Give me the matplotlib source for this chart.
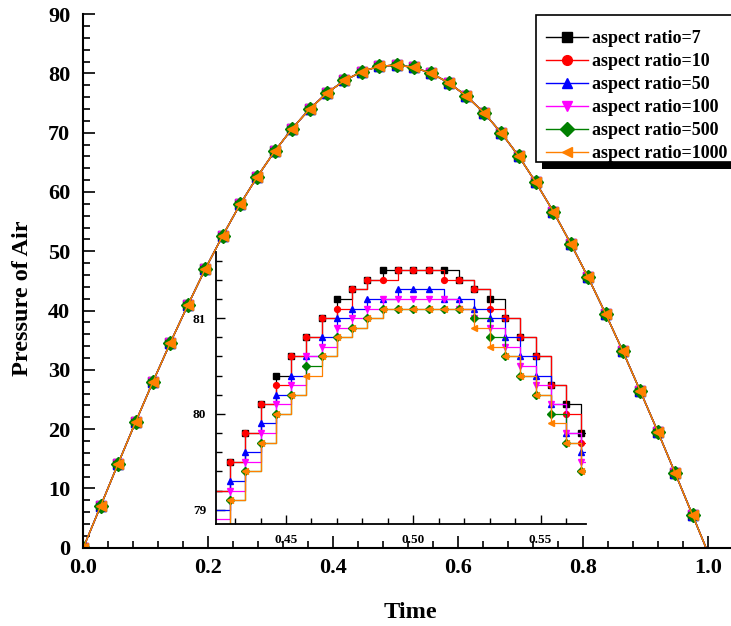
import numpy as np
import matplotlib.pyplot as plt
from matplotlib.ticker import MultipleLocator, FormatStrFormatter
from matplotlib.patches import Rectangle

plt.rcParams['font.family'] = ['Liberation Serif', 'DejaVu Serif']
plt.rcParams['font.weight'] = 'bold'

# main curve (markers shown every 1/36 of the cycle)
time_main = [0.0, 0.0279, 0.0557, 0.0836, 0.1114, 0.1393, 0.1671, 0.1950, 0.2228,
             0.2507, 0.2785, 0.3064, 0.3342, 0.3621, 0.3899, 0.4178, 0.4456, 0.4735,
             0.5013, 0.5292, 0.5570, 0.5849, 0.6127, 0.6406, 0.6684, 0.6963, 0.7241,
             0.7520, 0.7798, 0.8077, 0.8355, 0.8634, 0.8912, 0.9191, 0.9469, 0.9748,
             0.9963]
pressure_main = [0.0, 7.1, 14.2, 21.2, 28.0, 34.6, 40.9, 47.0, 52.6,
                 57.9, 62.6, 66.9, 70.7, 74.0, 76.7, 78.8, 80.3, 81.2,
                 81.4, 81.0, 80.0, 78.4, 76.2, 73.4, 70.0, 66.1, 61.6,
                 56.7, 51.3, 45.6, 39.5, 33.1, 26.4, 19.6, 12.6, 5.5,
                 0.0]

# zoomed region around the peak
time_zoom = [0.422, 0.428, 0.434, 0.440, 0.446, 0.452, 0.458, 0.464, 0.470, 0.476,
             0.482, 0.488, 0.494, 0.500, 0.506, 0.512, 0.518, 0.524, 0.530, 0.536,
             0.542, 0.548, 0.554, 0.560, 0.566, 0.572]
p_ar7 = [79.2, 79.5, 79.8, 80.1, 80.4, 80.6, 80.8, 81.0, 81.2, 81.3, 81.4, 81.5, 81.5,
         81.5, 81.5, 81.5, 81.4, 81.3, 81.2, 81.0, 80.8, 80.6, 80.3, 80.1, 79.8, 79.4]
p_ar10 = [79.2, 79.5, 79.8, 80.1, 80.3, 80.6, 80.8, 81.0, 81.1, 81.3, 81.4, 81.4, 81.5,
          81.5, 81.5, 81.4, 81.4, 81.3, 81.1, 81.0, 80.8, 80.6, 80.3, 80.0, 79.7, 79.3]
p_ar50 = [79.0, 79.3, 79.6, 79.9, 80.2, 80.4, 80.6, 80.8, 81.0, 81.1, 81.2, 81.2, 81.3,
          81.3, 81.3, 81.2, 81.2, 81.1, 81.0, 80.8, 80.6, 80.4, 80.1, 79.8, 79.6, 79.2]
p_ar100 = [78.9, 79.2, 79.5, 79.8, 80.1, 80.3, 80.6, 80.7, 80.9, 81.0, 81.1, 81.2, 81.2,
           81.2, 81.2, 81.2, 81.1, 81.0, 80.9, 80.7, 80.5, 80.3, 80.1, 79.8, 79.5, 79.1]
p_ar500 = [78.8, 79.1, 79.4, 79.7, 80.0, 80.2, 80.5, 80.6, 80.8, 80.9, 81.0, 81.1, 81.1,
           81.1, 81.1, 81.1, 81.1, 81.0, 80.8, 80.6, 80.4, 80.2, 80.0, 79.7, 79.4, 79.0]
p_ar1000 = [78.8, 79.1, 79.4, 79.7, 80.0, 80.2, 80.4, 80.6, 80.8, 80.9, 81.0, 81.1, 81.1,
            81.1, 81.1, 81.1, 81.1, 80.9, 80.7, 80.6, 80.4, 80.2, 79.9, 79.7, 79.4, 79.0]

labels = ['aspect ratio=7', 'aspect ratio=10', 'aspect ratio=50',
          'aspect ratio=100', 'aspect ratio=500', 'aspect ratio=1000']
colors = ['black', 'red', 'blue', 'magenta', 'green', '#FF8000']
markers = ['s', 'o', '^', 'v', 'D', '<']
zoom_series = [p_ar7, p_ar10, p_ar50, p_ar100, p_ar500, p_ar1000]

fig = plt.figure(figsize=(7.31, 6.26), dpi=100)
ax = fig.add_axes([0.114, 0.125, 0.886, 0.8525])

for lab, col, mk in zip(labels, colors, markers):
    ax.plot(time_main, pressure_main, color=col, marker=mk, markersize=7,
            linewidth=1.0, markevery=slice(0, len(time_main) - 1), label=lab)

ax.set_xlim(0, 1.0363)
ax.set_ylim(0, 90)
ax.spines['top'].set_visible(False)
ax.spines['right'].set_visible(False)
for s in ['left', 'bottom']:
    ax.spines[s].set_linewidth(1.5)
ax.xaxis.set_major_locator(MultipleLocator(0.2))
ax.xaxis.set_minor_locator(MultipleLocator(0.04))
ax.xaxis.set_major_formatter(FormatStrFormatter('%.1f'))
ax.yaxis.set_major_locator(MultipleLocator(10))
ax.yaxis.set_minor_locator(MultipleLocator(2))
ax.tick_params(which='both', direction='in', top=False, right=False, width=1.2)
ax.tick_params(which='major', length=8.5, labelsize=16)
ax.tick_params(which='minor', length=5.3)
ax.tick_params(axis='y', which='major', pad=9.5)
ax.tick_params(axis='x', which='major', pad=7.5)
for t in ax.get_xticklabels() + ax.get_yticklabels():
    t.set_fontweight('bold')

ax.set_xlabel('Time', fontsize=17.5, fontweight='bold')
ax.set_ylabel('Pressure of Air', fontsize=17.5, fontweight='bold')
ax.xaxis.set_label_coords(0.5055, -0.101)
ax.yaxis.set_label_coords(-0.078, 0.468)

# legend: own frame and solid black shadow, entries placed inside
shadow = Rectangle((0.7415, 0.7308), 0.3, 0.2343, transform=fig.transFigure,
                   facecolor='black', edgecolor='none', zorder=5.1, clip_on=False)
frame = Rectangle((0.7328, 0.7417), 0.3, 0.2343, transform=fig.transFigure,
                  facecolor='white', edgecolor='black', linewidth=1.2,
                  zorder=5.2, clip_on=False)
ax.add_artist(shadow)
ax.add_artist(frame)
leg = ax.legend(loc='upper left', bbox_to_anchor=(0.7469, 0.9513),
                bbox_transform=fig.transFigure, borderaxespad=0, borderpad=0,
                frameon=False, prop={'size': 13, 'weight': 'bold'},
                handlelength=2.3, handletextpad=0.25, labelspacing=0.33)
leg.set_zorder(6)

# inset
axins = fig.add_axes([0.2955, 0.1629, 0.5057, 0.4345])
axins.patch.set_alpha(0)
for series, col, mk in zip(zoom_series, colors, markers):
    axins.plot(time_zoom, series, color=col, marker=mk, markersize=4.2,
               linewidth=0.9, drawstyle='steps-post', markevery=slice(1, None))
axins.set_xlim(0.4225, 0.5677)
axins.set_ylim(78.85, 81.69)
axins.spines['top'].set_visible(False)
axins.spines['right'].set_visible(False)
for s in ['left', 'bottom']:
    axins.spines[s].set_linewidth(1.3)
axins.set_xticks([0.45, 0.50, 0.55])
axins.xaxis.set_minor_locator(MultipleLocator(0.01))
axins.xaxis.set_major_formatter(FormatStrFormatter('%.2f'))
axins.set_yticks([79, 80, 81])
axins.yaxis.set_minor_locator(MultipleLocator(0.2))
axins.tick_params(which='both', direction='in', top=False, right=False, width=1.0,
                  labelsize=9.5, pad=7)
axins.tick_params(which='major', length=6.5)
axins.tick_params(which='minor', length=4.3)
for t in axins.get_xticklabels() + axins.get_yticklabels():
    t.set_fontweight('bold')

fig.savefig('out.png', dpi=100)
